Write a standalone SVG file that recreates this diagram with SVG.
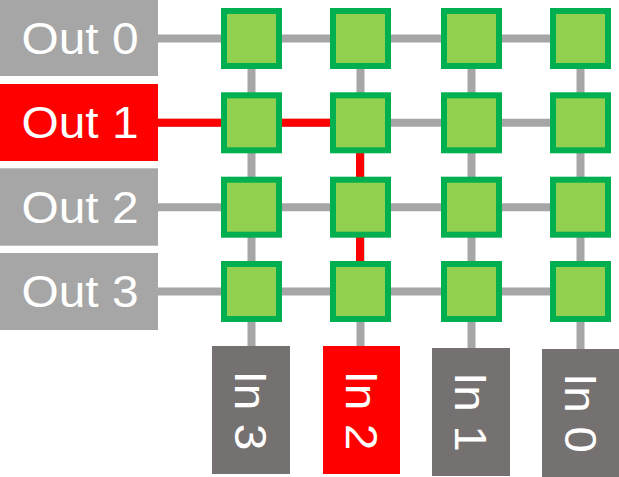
<svg xmlns="http://www.w3.org/2000/svg" width="619" height="477" viewBox="0 0 619 477">
<style>
.bg{fill:#ffffff}
.out{fill:#A6A6A6}
.in{fill:#767171}
.sel{fill:#FF0000}
.sw{fill:#92D050;stroke:#00B050;stroke-width:6}
.ln{stroke:#A6A6A6;stroke-width:8;fill:none}
.rl{stroke:#FF0000;stroke-width:8;fill:none}
.t{font-family:"Liberation Sans",Arial,sans-serif;font-size:45px;fill:#ffffff;text-anchor:middle}
</style>
<rect class="bg" x="0" y="0" width="619" height="477"/>
<g id="connectors">
  <line class="ln" x1="158" y1="38.5" x2="580.5" y2="38.5"/>
  <line class="ln" x1="158" y1="122.8" x2="580.5" y2="122.8"/>
  <line class="ln" x1="158" y1="207.2" x2="580.5" y2="207.2"/>
  <line class="ln" x1="158" y1="291.5" x2="580.5" y2="291.5"/>
  <line class="ln" x1="251.5" y1="38.5" x2="251.5" y2="347"/>
  <line class="ln" x1="360.5" y1="38.5" x2="360.5" y2="347"/>
  <line class="ln" x1="471.5" y1="38.5" x2="471.5" y2="349"/>
  <line class="ln" x1="580.5" y1="38.5" x2="580.5" y2="350"/>
  <polyline class="rl" points="158,122.8 360,122.8 360,291.5"/>
</g>
<g id="out0"><rect class="out" x="0" y="0" width="158" height="76"/><text class="t" x="80" y="54" textLength="117" lengthAdjust="spacingAndGlyphs">Out 0</text></g>
<g id="out1"><rect class="sel" x="0" y="84" width="158" height="77"/><text class="t" x="80" y="138.3" textLength="117" lengthAdjust="spacingAndGlyphs">Out 1</text></g>
<g id="out2"><rect class="out" x="0" y="168.3" width="158" height="77.4"/><text class="t" x="80" y="222.7" textLength="117" lengthAdjust="spacingAndGlyphs">Out 2</text></g>
<g id="out3"><rect class="out" x="0" y="253" width="158" height="77"/><text class="t" x="80" y="307" textLength="117" lengthAdjust="spacingAndGlyphs">Out 3</text></g>
<g id="in3"><rect class="in" x="212" y="346" width="78" height="128"/><text class="t" transform="translate(251,410.5) rotate(90)" x="0" y="16" textLength="80" lengthAdjust="spacingAndGlyphs">In 3</text></g>
<g id="in2"><rect class="sel" x="323" y="346" width="77" height="128"/><text class="t" transform="translate(361.5,410.5) rotate(90)" x="0" y="16" textLength="80" lengthAdjust="spacingAndGlyphs">In 2</text></g>
<g id="in1"><rect class="in" x="432" y="348" width="78" height="128"/><text class="t" transform="translate(471,412) rotate(90)" x="0" y="16" textLength="80" lengthAdjust="spacingAndGlyphs">In 1</text></g>
<g id="in0"><rect class="in" x="542" y="349" width="77" height="128"/><text class="t" transform="translate(580.5,413) rotate(90)" x="0" y="16" textLength="80" lengthAdjust="spacingAndGlyphs">In 0</text></g>
<g id="sw-r0c0"><rect class="sw" x="224" y="11" width="55" height="55"/></g>
<g id="sw-r0c1"><rect class="sw" x="333" y="11" width="55" height="55"/></g>
<g id="sw-r0c2"><rect class="sw" x="444" y="11" width="55" height="55"/></g>
<g id="sw-r0c3"><rect class="sw" x="553" y="11" width="55" height="55"/></g>
<g id="sw-r1c0"><rect class="sw" x="224" y="95.3" width="55" height="55"/></g>
<g id="sw-r1c1"><rect class="sw" x="333" y="95.3" width="55" height="55"/></g>
<g id="sw-r1c2"><rect class="sw" x="444" y="95.3" width="55" height="55"/></g>
<g id="sw-r1c3"><rect class="sw" x="553" y="95.3" width="55" height="55"/></g>
<g id="sw-r2c0"><rect class="sw" x="224" y="179.7" width="55" height="55"/></g>
<g id="sw-r2c1"><rect class="sw" x="333" y="179.7" width="55" height="55"/></g>
<g id="sw-r2c2"><rect class="sw" x="444" y="179.7" width="55" height="55"/></g>
<g id="sw-r2c3"><rect class="sw" x="553" y="179.7" width="55" height="55"/></g>
<g id="sw-r3c0"><rect class="sw" x="224" y="264" width="55" height="55"/></g>
<g id="sw-r3c1"><rect class="sw" x="333" y="264" width="55" height="55"/></g>
<g id="sw-r3c2"><rect class="sw" x="444" y="264" width="55" height="55"/></g>
<g id="sw-r3c3"><rect class="sw" x="553" y="264" width="55" height="55"/></g>
</svg>
